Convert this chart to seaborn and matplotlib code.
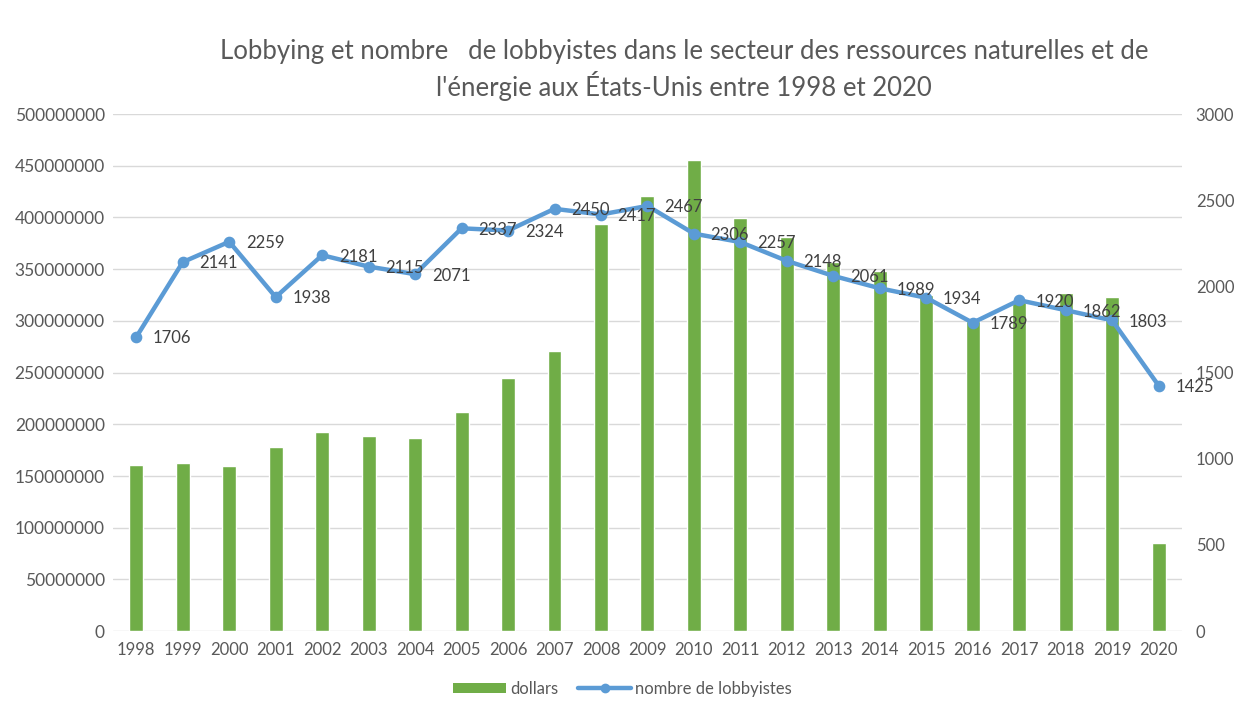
import numpy as np
import pandas as pd
import seaborn as sns
import matplotlib.pyplot as plt
from matplotlib.patches import Patch
from matplotlib.lines import Line2D

# Données
years = [str(y) for y in range(1998, 2021)]
dollars = [160.5e6, 163e6, 159.5e6, 178e6, 192.5e6, 189e6, 186.5e6, 212e6, 245e6,
           270.5e6, 394e6, 421e6, 456e6, 399.5e6, 381e6, 357e6, 348e6, 325e6,
           300e6, 318e6, 327e6, 323.5e6, 85e6]
lobbyistes = [1706, 2141, 2259, 1938, 2181, 2115, 2071, 2337, 2324, 2450, 2417,
              2467, 2306, 2257, 2148, 2061, 1989, 1934, 1789, 1920, 1862, 1803, 1425]

df = pd.DataFrame({'annee': years, 'dollars': dollars, 'lobbyistes': lobbyistes})

green = '#70AD47'
blue = '#5B9BD5'
grey = '#595959'

sns.set_style('white')
plt.rcParams['font.family'] = ['Lato', 'DejaVu Sans']

fig = plt.figure(figsize=(12.37, 7.06), dpi=100)
ax = fig.add_axes([0.0914, 0.106, 0.864, 0.7325])

sns.barplot(data=df, x='annee', y='dollars', color=green, width=0.3,
            saturation=1, ax=ax, zorder=2)
ax.set_ylim(0, 500e6)
ax.set_yticks(np.arange(0, 500e6 + 1, 50e6))
ax.set_yticklabels([f'{int(v)}' for v in np.arange(0, 500e6 + 1, 50e6)])
ax.yaxis.grid(True, color='#D9D9D9', linewidth=1)
ax.set_axisbelow(True)
ax.set_xlabel('')
ax.set_ylabel('')
for s in ax.spines.values():
    s.set_visible(False)
ax.tick_params(axis='both', length=0, labelsize=12.5, labelcolor=grey, pad=6)
ax.tick_params(axis='x', labelsize=12, pad=8)

ax2 = ax.twinx()
sns.pointplot(data=df, x='annee', y='lobbyistes', color=blue, markers='o',
              linestyles='-', ax=ax2, markersize=6, linewidth=3.2)
ax2.set_ylim(0, 3000)
ax2.set_yticks(np.arange(0, 3001, 500))
ax2.set_ylabel('')
for s in ax2.spines.values():
    s.set_visible(False)
ax2.tick_params(axis='y', length=0, labelsize=12, labelcolor=grey, pad=10)
ax.set_xlim(-0.5, len(years) - 0.5)

for i, v in enumerate(lobbyistes):
    ax2.annotate(str(v), (i, v), xytext=(12, -1), textcoords='offset points',
                 ha='left', va='center', fontsize=12, color='#404040')

fig.text(0.553, 0.901, 'Lobbying et nombre   de lobbyistes dans le secteur des ressources naturelles et de\n'
         "l'énergie aux États-Unis entre 1998 et 2020",
         ha='center', va='center', fontsize=18.5, color=grey, linespacing=1.3)

handles = [Patch(facecolor=green, edgecolor='none'),
           Line2D([0], [0], color=blue, linewidth=3.2, marker='o', markersize=6)]
fig.legend(handles, ['dollars', 'nombre de lobbyistes'], loc='center',
           bbox_to_anchor=(0.503, 0.024), ncol=2, frameon=False, fontsize=12,
           labelcolor=grey, handlelength=3.2, columnspacing=1.2, handleheight=0.6,
           handletextpad=0.2)

fig.savefig('out.png', dpi=100, facecolor='white')
